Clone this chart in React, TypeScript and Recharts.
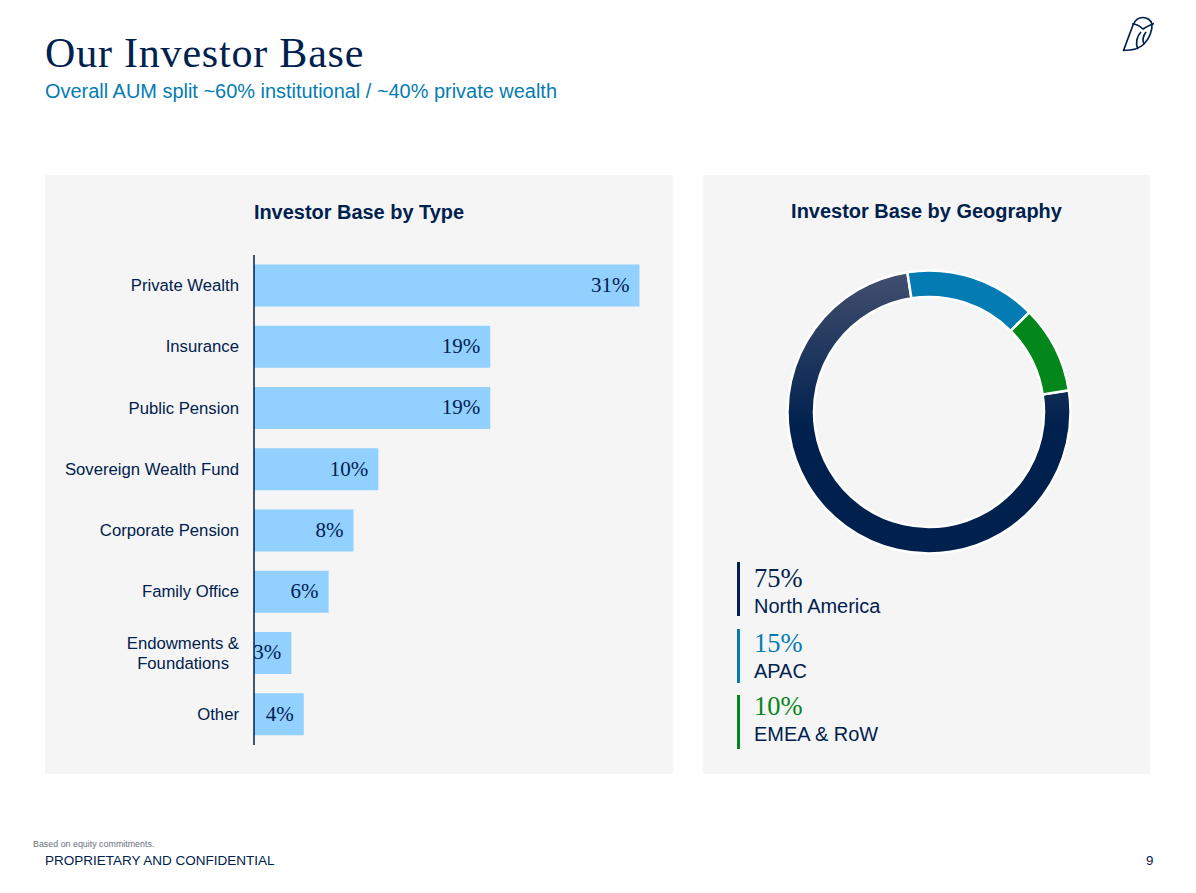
import React from "react";
import { BarChart, Bar, XAxis, YAxis, LabelList, PieChart, Pie, Cell } from "recharts";

const NAVY = "#00214e";
const BLUE = "#047cb3";
const GREEN = "#04871a";
const BAR = "#91d0ff";
const PANEL = "#f5f5f5";

const typeCategories = ["Private Wealth", "Insurance", "Public Pension", "Sovereign Wealth Fund", "Corporate Pension", "Family Office", "Endowments & Foundations", "Other"];
const typeValues = [31, 19, 19, 10, 8, 6, 3, 4];
const geoNames = ["North America", "APAC", "EMEA & RoW"];
const geoValues = [75, 15, 10];
const geoColors = ["url(#naGrad)", BLUE, GREEN];
const geoTextColors = [NAVY, BLUE, GREEN];

const typeData = typeCategories.map((name, i) => ({ name, value: typeValues[i] }));
const geoData = geoNames.map((name, i) => ({ name, value: geoValues[i] }));

const sans = "'Liberation Sans', Arial, sans-serif";
const serif = "'Liberation Serif', serif";

const abs = (left: number, top: number, extra: React.CSSProperties = {}): React.CSSProperties => ({
  position: "absolute", left, top, whiteSpace: "nowrap", ...extra,
});

function CategoryTick({ x, y, payload }: any) {
  const v: string = payload.value;
  const lines = v.startsWith("Endowments") ? ["Endowments &", "Foundations"] : [v];
  return (
    <text x={x} y={y} textAnchor="end" fontFamily={sans} fontSize={16.7} fill={NAVY}>
      {lines.map((l, i) => (
        <tspan key={l} x={lines.length > 1 && i === 1 ? x - 10 : x} y={y + 5.6 + (lines.length > 1 ? (i === 0 ? -10 : 10) : 0)}>{l}</tspan>
      ))}
    </text>
  );
}

function ValueLabel({ x, y, width, height, value }: any) {
  return (
    <text x={x + width - 10} y={y + height / 2 + 6.3} textAnchor="end" fontFamily={serif} fontSize={21} fill={NAVY}>
      {value}%
    </text>
  );
}

const legendBarTops = [562, 629, 695];
const legendValueTops = [562, 627, 690];
const legendNameTops = [593, 658, 721];

export default function App() {
  return (
    <div style={{ position: "absolute", left: 0, top: 0, width: 1196, height: 893, background: "#fff", overflow: "hidden", fontFamily: sans }}>
      <div style={abs(45, 29, { fontFamily: serif, fontSize: 42, letterSpacing: 0.8, color: NAVY, lineHeight: "48px" })}>Our Investor Base</div>
      <div style={abs(45, 78, { fontSize: 19.96, color: BLUE, lineHeight: "26px" })}>Overall AUM split ~60% institutional / ~40% private wealth</div>

      <svg style={{ position: "absolute", left: 1120, top: 14 }} width={38} height={40} viewBox="0 0 38 40" fill="none" stroke={NAVY} strokeWidth={1.7} strokeLinejoin="round">
        <path d="M3.5 36.5 L13 11 C15 6 19 3.5 23 3.5 C27 3.5 31 6 32 10 C32.5 17 29 25 24 30 C19 35 12 36.5 3.5 36.5 Z" />
        <path d="M12 10 C17 10 20 12 23 15 C26 13 30 11 34 9.5" />
        <path d="M18 35 C15 29 17 22 21 18" />
        <path d="M24 30 C22 26 23 22 26 18" />
      </svg>

      <div style={abs(45, 175, { width: 628, height: 599, background: PANEL })} />
      <div style={abs(703, 175, { width: 447, height: 599, background: PANEL })} />

      <div style={abs(45, 200, { width: 628, textAlign: "center", fontWeight: 700, fontSize: 19.95, color: NAVY, lineHeight: "24px" })}>Investor Base by Type</div>
      <div style={abs(703, 199, { width: 447, textAlign: "center", fontWeight: 700, fontSize: 19.98, color: NAVY, lineHeight: "24px" })}>Investor Base by Geography</div>

      <div style={abs(45, 255)}>
        <BarChart width={628} height={490} data={typeData} layout="vertical" barCategoryGap={9.6} margin={{ top: 0, right: 0, bottom: 0, left: 0 }}>
          <XAxis type="number" hide domain={[0, 33.7]} />
          <YAxis type="category" dataKey="name" width={209} axisLine={{ stroke: "#00214e", strokeWidth: 1.5 }} tickLine={false} tick={<CategoryTick />} tickMargin={9} interval={0} />
          <Bar dataKey="value" fill={BAR} isAnimationActive={false}>
            <LabelList dataKey="value" content={<ValueLabel />} />
          </Bar>
        </BarChart>
      </div>

      <div style={abs(779, 262)}>
        <PieChart width={300} height={300} margin={{ top: 0, right: 0, bottom: 0, left: 0 }}>
          <defs>
            <linearGradient id="naGrad" x1="0" y1="0" x2="0" y2="1">
              <stop offset="0" stopColor="#434f6f" />
              <stop offset="0.55" stopColor={NAVY} />
              <stop offset="1" stopColor={NAVY} />
            </linearGradient>
          </defs>
          <Pie data={geoData} dataKey="value" cx={150} cy={150} innerRadius={115} outerRadius={141.5} startAngle={8.8} endAngle={-351.2} stroke="#fff" strokeWidth={2.5} isAnimationActive={false}>
            {geoData.map((d, i) => <Cell key={d.name} fill={geoColors[i]} />)}
          </Pie>
        </PieChart>
      </div>

      {geoData.map((d, i) => (
        <React.Fragment key={d.name}>
          <div style={abs(737, legendBarTops[i], { width: 3, height: 54, background: geoTextColors[i] })} />
          <div style={abs(754, legendValueTops[i], { fontFamily: serif, fontSize: 26.5, lineHeight: "32px", color: geoTextColors[i] })}>{d.value}%</div>
          <div style={abs(754, legendNameTops[i], { fontSize: 19.96, lineHeight: "26px", color: NAVY })}>{d.name}</div>
        </React.Fragment>
      ))}

      <div style={abs(33, 838, { fontSize: 8.9, lineHeight: "12px", color: "#6b6f7a" })}>Based on equity commitments.</div>
      <div style={abs(45, 852.5, { fontSize: 13.5, lineHeight: "16px", color: NAVY })}>PROPRIETARY AND CONFIDENTIAL</div>
      <div style={abs(1146, 852.5, { fontSize: 13.3, lineHeight: "16px", color: NAVY })}>9</div>
    </div>
  );
}
